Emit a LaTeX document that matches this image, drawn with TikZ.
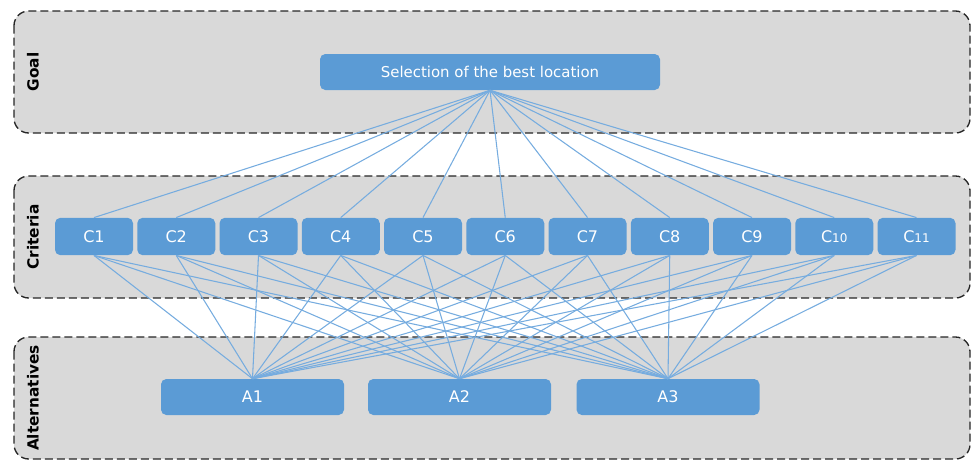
\documentclass[tikz,border=0pt]{standalone}
\usepackage{fontspec}
\setmainfont{DejaVu Sans}
\begin{document}
\begin{tikzpicture}[x=0.75pt,y=-0.75pt,
  band/.style={draw=black!85, dash pattern=on 6pt off 3pt, line width=1pt,
               fill=black!15, rounded corners=11pt},
  bandlabel/.style={rotate=90, font=\bfseries\fontsize{11.5}{13}\selectfont, text=black},
  box/.style={fill=boxblue, draw=none, rounded corners=4pt, text=white,
              font=\fontsize{12}{14}\selectfont, inner sep=0pt},
  gbox/.style={box, minimum width=255pt, minimum height=27pt, font=\fontsize{11.2}{13}\selectfont},
  cbox/.style={box, minimum width=58.5pt, minimum height=28pt},
  abox/.style={box, minimum width=137.25pt, minimum height=27pt},
  link/.style={draw=linkblue, line width=0.8pt}]
\definecolor{boxblue}{HTML}{5B9BD5}
\definecolor{linkblue}{HTML}{76ACDF}
\useasboundingbox (0,0) rectangle (975,461);

% three layers
\draw[band] (14,11) rectangle (970,133);
\draw[band] (14,176) rectangle (970,298);
\draw[band] (14,337) rectangle (970,459);
\node[bandlabel] (lg) at (33,72) {Goal};
\node[bandlabel] (lc) at (33,237) {Criteria};
\node[bandlabel] (la) at (33,398) {Alternatives};

% goal
\node[gbox] (goal) at (490,72) {Selection of the best location};

% criteria
\foreach \i/\t in {1/C1,2/C2,3/C3,4/C4,5/C5,6/C6,7/C7,8/C8,9/C9,
  10/{C{\fontsize{9}{10}\selectfont 10}},11/{C{\fontsize{9}{10}\selectfont 11}}}{
  \node[cbox] (c\i) at ({94+82.25*(\i-1)},236.5) {\t};
}

% alternatives
\node[abox] (a1) at (252.5,397) {A1};
\node[abox] (a2) at (459.5,397) {A2};
\node[abox] (a3) at (668,397) {A3};

% links: goal to every criterion, every criterion to every alternative
\foreach \i in {1,...,11}{
  \draw[link] (goal.south) -- (c\i.north);
  \foreach \j in {1,2,3}{
    \draw[link] (c\i.south) -- (a\j.north);
  }
}
\end{tikzpicture}
\end{document}
